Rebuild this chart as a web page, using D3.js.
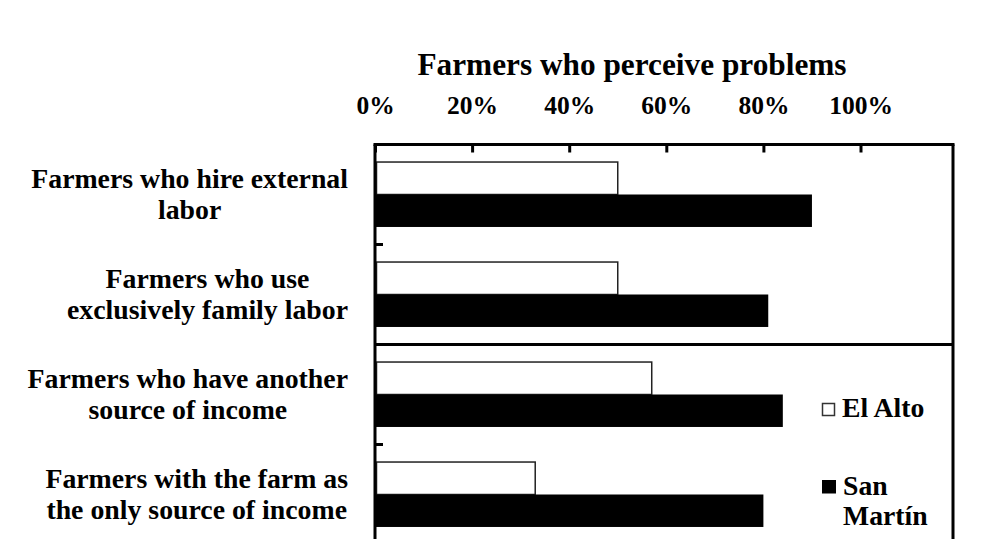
<!DOCTYPE html>
<html>
<head>
<meta charset="utf-8">
<script src="https://cdn.jsdelivr.net/npm/d3@7"></script>
<style>
  html, body { margin: 0; padding: 0; background: #fff; }
  svg { display: block; }
  text { font-family: "Liberation Serif", "Times New Roman", serif; font-weight: bold; fill: #000; }
</style>
</head>
<body>
<svg id="chart" width="987" height="539"></svg>
<script>
const categories = [
  ["Farmers who hire external", "labor"],
  ["Farmers who use", "exclusively family labor"],
  ["Farmers who have another", "source of income"],
  ["Farmers with the farm as", "the only source of income"]
];
const seriesNames = ["El Alto", "San Martín"];
const elAlto = [0.50, 0.50, 0.57, 0.33];
const sanMartin = [0.90, 0.81, 0.84, 0.80];
const tickValues = [0, 0.2, 0.4, 0.6, 0.8, 1.0];
const chartTitle = "Farmers who perceive problems";

(function () {
const svg = d3.select("#chart");
svg.append("rect").attr("width", 987).attr("height", 539).attr("fill", "#fff");

const pLeft = 375, pRight = 953, pTop = 144.5, pBottom = 544.5;
const x = d3.scaleLinear().domain([0, 1]).range([pLeft, 860.5]);
const catIdx = categories.map((d, i) => i);
const y = d3.scaleBand().domain(catIdx).range([pTop, pBottom]).paddingInner(0).paddingOuter(0);
const ySub = d3.scaleBand().domain([0, 1]).range([0, y.bandwidth()]).paddingInner(0).paddingOuter(0.54);

const data = catIdx.map(i => ({ i, vals: [elAlto[i], sanMartin[i]] }));

// bars
const g = svg.append("g");
data.forEach(d => {
  d.vals.forEach((v, s) => {
    const y0 = y(d.i) + ySub(s);
    if (s === 0) {
      g.append("rect")
        .attr("x", x(0) + 1.5).attr("y", y0)
        .attr("width", x(v) - x(0) - 1.5).attr("height", ySub.bandwidth())
        .attr("fill", "#fff").attr("stroke", "#222").attr("stroke-width", 1.5);
    } else {
      g.append("rect")
        .attr("x", x(0)).attr("y", y0)
        .attr("width", x(v) - x(0)).attr("height", ySub.bandwidth())
        .attr("fill", "#000");
    }
  });
});

// frame
const frame = svg.append("g").attr("stroke", "#000").attr("stroke-width", 3).attr("fill", "none");
frame.append("line").attr("x1", pLeft).attr("x2", pLeft).attr("y1", pTop).attr("y2", 539);
frame.append("line").attr("x1", pRight).attr("x2", pRight).attr("y1", pTop).attr("y2", 539);
frame.append("line").attr("x1", pLeft - 1.5).attr("x2", pRight + 1.5).attr("y1", pTop).attr("y2", pTop);
frame.append("line").attr("x1", pLeft).attr("x2", pRight).attr("y1", y(2)).attr("y2", y(2));

// top axis ticks (inside)
const xAxis = d3.axisTop(x).tickValues(tickValues).tickSizeInner(-8).tickSizeOuter(0)
  .tickFormat(d3.format(".0%")).tickPadding(31);
const gx = svg.append("g").attr("transform", `translate(0,${pTop})`).call(xAxis);
gx.select(".domain").remove();
gx.selectAll(".tick line").attr("stroke", "#000").attr("stroke-width", 3);
gx.selectAll(".tick text").attr("font-size", 25.5).attr("fill", "#000")
  .attr("font-family", '"Liberation Serif", "Times New Roman", serif').attr("font-weight", "bold");

// left axis category ticks (inside)
const yTicks = [1, 2, 3];
svg.append("g").selectAll("line").data(yTicks).join("line")
  .attr("x1", pLeft).attr("x2", pLeft + 8)
  .attr("y1", d => y(d)).attr("y2", d => y(d))
  .attr("stroke", "#000").attr("stroke-width", 3);

// category labels (block right-aligned, lines centered)
const labelRight = 348;
data.forEach(d => {
  const cy = y(d.i) + y.bandwidth() / 2;
  const lines = categories[d.i];
  const grp = svg.append("g");
  const texts = lines.map((t, k) => grp.append("text")
    .attr("font-size", 27.8).attr("text-anchor", "middle")
    .attr("y", cy - 7 + k * 31.5).text(t));
  const w = d3.max(texts, t => t.node().getComputedTextLength());
  texts.forEach(t => t.attr("x", labelRight - w / 2));
});

// title
svg.append("text").attr("x", 632).attr("y", 75).attr("text-anchor", "middle")
  .attr("font-size", 31.3).text(chartTitle);

// legend
const leg = svg.append("g");
leg.append("rect").attr("x", 822.5).attr("y", 403.5).attr("width", 12).attr("height", 12)
  .attr("fill", "#fff").attr("stroke", "#333").attr("stroke-width", 1.5);
leg.append("text").attr("x", 842).attr("y", 417).attr("font-size", 27.7).text(seriesNames[0]);
leg.append("rect").attr("x", 822).attr("y", 480).attr("width", 14).attr("height", 13.5).attr("fill", "#000");
leg.append("text").attr("x", 843).attr("y", 495).attr("font-size", 27.7).text("San");
leg.append("text").attr("x", 843).attr("y", 525).attr("font-size", 27.7).text("Martín");
})();
</script>
</body>
</html>
